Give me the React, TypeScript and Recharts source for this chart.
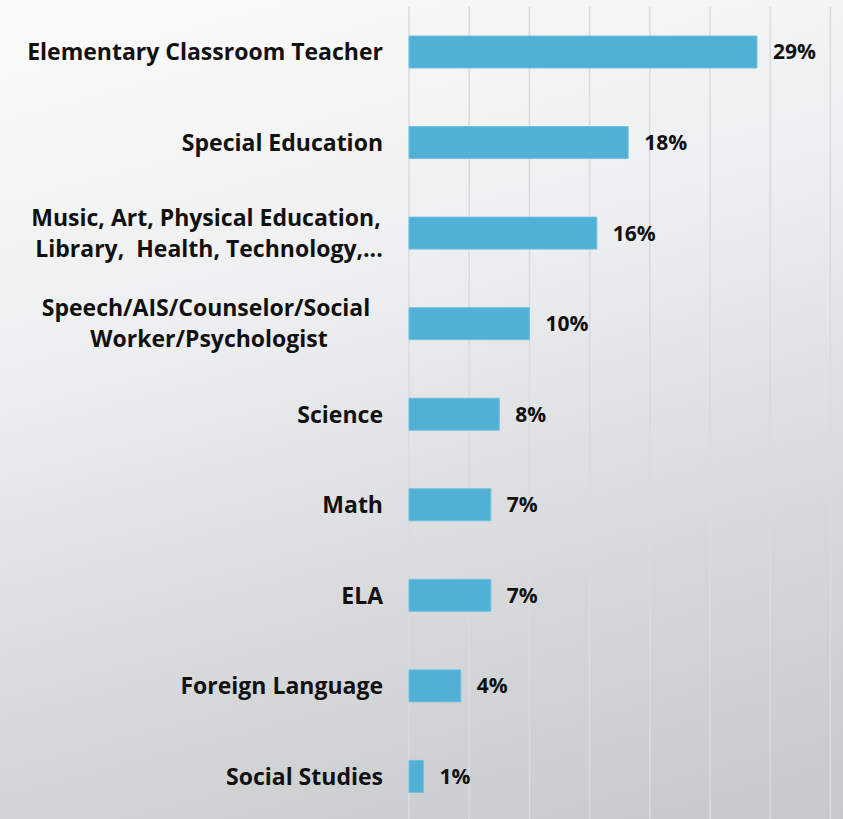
import { BarChart, Bar, XAxis, YAxis, CartesianGrid, LabelList } from 'recharts'

const categories = [
  'Elementary Classroom Teacher',
  'Special Education',
  'Music, Art, Physical Education, \nLibrary,  Health, Technology,...',
  'Speech/AIS/Counselor/Social \nWorker/Psychologist',
  'Science',
  'Math',
  'ELA',
  'Foreign Language',
  'Social Studies',
]

const shares = [28.9, 18.2, 15.6, 10.0, 7.5, 6.8, 6.8, 4.3, 1.2]

const xTicks = [0, 5, 10, 15, 20, 25, 30, 35]

const data = categories.map((name, i) => ({ name, value: shares[i] }))

const FONT = '"Open Sans", Lato, sans-serif'

interface TickProps {
  x?: number
  y?: number
  payload?: { value: string }
}

function CategoryTick({ x = 0, y = 0, payload }: TickProps) {
  const lines = String(payload?.value ?? '').split('\n')
  if (lines.length === 1) {
    return (
      <text x={x} y={y} dy="0.35em" textAnchor="end" fontFamily={FONT} fontWeight={700} fontSize={23} fill="#111">
        {lines[0]}
      </text>
    )
  }
  const lineH = 31
  const cx = x - 174
  return (
    <text x={cx} y={y} textAnchor="middle" fontFamily={FONT} fontWeight={700} fontSize={23} fill="#111" style={{ whiteSpace: 'pre' }}>
      {lines.map((l, i) => (
        <tspan key={i} x={cx} y={y + (i - (lines.length - 1) / 2) * lineH} dy="0.35em">
          {l}
        </tspan>
      ))}
    </text>
  )
}

export default function App() {
  return (
    <div
      style={{
        width: 843,
        height: 819,
        overflow: 'hidden',
        background: 'linear-gradient(165deg, #fbfbfb 0%, #eeeff0 35%, #d6d8d9 70%, #c6c9cb 100%)',
      }}
    >
      <style>{'body{margin:0}'}</style>
      <BarChart
        width={843}
        height={822}
        data={data}
        layout="vertical"
        margin={{ top: 7, right: 12.6, bottom: 0, left: 0 }}
        barSize={32}
      >
        <CartesianGrid horizontal={false} stroke="#dadbdc" strokeWidth={1.5} />
        <XAxis type="number" domain={[0, 35]} ticks={xTicks} hide />
        <YAxis
          type="category"
          dataKey="name"
          width={409}
          axisLine={false}
          tickLine={false}
          tickSize={6}
          tickMargin={20}
          interval={0}
          tick={<CategoryTick />}
        />
        <Bar dataKey="value" fill="#50b0d5" stroke="#72c0de" strokeWidth={1} isAnimationActive={false}>
          <LabelList
            dataKey="value"
            position="right"
            offset={16}
            formatter={(v: unknown) => `${Math.round(Number(v))}%`}
            style={{ fontFamily: FONT, fontWeight: 700, fontSize: 21, fill: '#111' }}
          />
        </Bar>
      </BarChart>
    </div>
  )
}
